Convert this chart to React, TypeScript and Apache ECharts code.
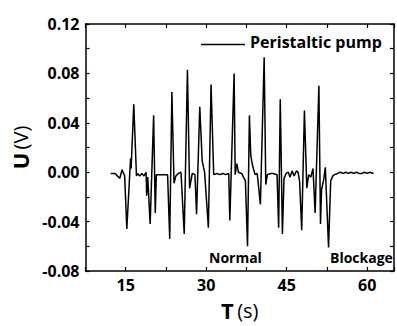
import React, { useEffect, useRef } from "react";
import * as echarts from "echarts";

const seriesName = "Peristaltic pump";

const timeS = [
  12.2, 13.0, 13.9, 14.3, 14.8, 15.2, 15.9, 16.0, 16.5, 17.0, 17.2, 17.6, 18.0, 18.4, 18.8, 18.9, 19.1, 19.55,
  20.2, 20.5, 20.7, 21.5, 22.8, 23.2, 23.6, 24.0, 24.35, 24.8, 25.3, 25.9, 26.5, 26.9, 27.4, 27.9, 28.2, 28.8,
  29.25, 29.7, 30.4, 30.9, 31.4, 32.0, 32.5, 33.1, 33.6, 34.2, 34.4, 35.2, 35.4, 35.7, 36.0, 36.6, 37.3, 37.7,
  38.05, 38.3, 38.6, 39.1, 39.5, 40.1, 40.8, 41.1, 41.4, 42.0, 42.5, 43.2, 43.5, 43.8, 44.2, 44.5, 44.9, 45.3,
  45.6, 46.0, 46.4, 46.8, 47.1, 47.4, 47.8, 48.3, 48.75, 49.1, 49.5, 49.9, 50.3, 51.0, 51.3, 51.5, 51.9, 52.2,
  52.8, 53.2, 53.6, 53.9, 54.5, 55.0, 55.5, 56.0, 56.5, 57.0, 57.5, 58.0, 58.5, 59.0, 59.5, 60.0, 60.5, 61.2,
];

const voltage = [
  -0.001, -0.001, -0.005, 0.002, -0.003, -0.046, 0.011, 0.003, 0.055, -0.003, -0.001, -0.003, -0.001, -0.003, 0.0, -0.019, -0.004, -0.042,
  0.046, -0.033, -0.002, -0.002, -0.002, -0.054, 0.065, -0.009, -0.003, -0.001, 0.0, -0.05, 0.083, -0.013, -0.001, -0.002, -0.034, 0.053,
  0.009, 0.0, -0.045, 0.071, -0.002, -0.001, -0.002, -0.001, -0.002, -0.001, -0.039, 0.08, -0.002, 0.007, 0.0, -0.001, -0.007, -0.06,
  0.046, 0.014, 0.006, -0.002, -0.001, -0.026, 0.093, -0.01, -0.002, -0.001, -0.001, -0.002, -0.045, 0.059, -0.05, -0.005, -0.001, 0.0,
  -0.004, 0.001, -0.003, 0.001, 0.0, -0.007, -0.047, 0.05, -0.013, -0.002, -0.004, 0.003, -0.033, 0.07, -0.042, -0.014, -0.006, 0.004,
  -0.061, -0.007, -0.003, -0.002, -0.001, 0.0, -0.001, 0.0, -0.001, 0.0, -0.001, 0.0, -0.001, -0.001, 0.0, -0.001, 0.0, -0.001,
];

const xLabels = [15, 30, 45, 60];
const yLabels = [-0.08, -0.04, 0, 0.04, 0.08, 0.12];
const annotations = ["Normal", "Blockage"];

const FONT = "'Open Sans', 'DejaVu Sans', sans-serif";

export default function App() {
  const ref = useRef<HTMLDivElement>(null);
  useEffect(() => {
    if (!ref.current) return;
    const chart = echarts.init(ref.current, null, { renderer: "svg" });
    const data = timeS.map((t, i) => [t, voltage[i]]);
    const axisLine = { show: true, onZero: false, lineStyle: { color: "#000", width: 1.5 } };
    const tick = { show: true, inside: true, length: 4, lineStyle: { color: "#000", width: 1.2 } };
    const labelStyle = { color: "#000", fontFamily: FONT, fontWeight: "bold" as const, fontSize: 16 };
    chart.setOption({
      animation: false,
      backgroundColor: "#fff",
      grid: { left: 85.5, right: 0.5, top: 24, bottom: 51, containLabel: false },
      xAxis: [
        {
          type: "value",
          position: "bottom",
          min: 7.5,
          max: 65,
          interval: 7.5,
          axisLine,
          axisTick: tick,
          splitLine: { show: false },
          axisLabel: {
            ...labelStyle,
            margin: 6,
            formatter: (v: number) => (xLabels.some((l) => Math.abs(l - v) < 1e-6) ? String(v) : ""),
          },
          name: "{b|T} {n|(s)}",
          nameLocation: "middle",
          nameGap: 28,
          nameTextStyle: {
            rich: {
              b: { fontFamily: FONT, fontWeight: "bold", fontSize: 22, color: "#000" },
              n: { fontFamily: FONT, fontWeight: "normal", fontSize: 20, color: "#000" },
            },
          },
        },
        {
          type: "value",
          position: "top",
          min: 7.5,
          max: 65,
          interval: 7.5,
          axisLine,
          axisTick: tick,
          splitLine: { show: false },
          axisLabel: { show: false },
        },
      ],
      yAxis: [
        {
          type: "value",
          position: "left",
          min: -0.08,
          max: 0.12,
          interval: 0.02,
          axisLine,
          axisTick: tick,
          splitLine: { show: false },
          axisLabel: {
            ...labelStyle,
            margin: 6,
            formatter: (v: number) => (yLabels.some((l) => Math.abs(l - v) < 1e-6) ? v.toFixed(2) : ""),
          },
          name: "{b|U} {n|(V)}",
          nameLocation: "middle",
          nameGap: 48,
          nameTextStyle: {
            rich: {
              b: { fontFamily: FONT, fontWeight: "bold", fontSize: 22, color: "#000" },
              n: { fontFamily: FONT, fontWeight: "normal", fontSize: 20, color: "#000" },
            },
          },
        },
        {
          type: "value",
          position: "right",
          min: -0.08,
          max: 0.12,
          interval: 0.02,
          axisLine,
          axisTick: tick,
          splitLine: { show: false },
          axisLabel: { show: false },
        },
      ],
      graphic: [
        {
          type: "line",
          shape: { x1: 201, y1: 44.5, x2: 245, y2: 44.5 },
          style: { stroke: "#000", lineWidth: 1.5 },
        },
        {
          type: "text",
          left: 250,
          top: 34,
          style: { text: seriesName, fill: "#000", font: `bold 16px ${FONT}` },
        },
        {
          type: "text",
          left: 209,
          top: 250,
          style: { text: annotations[0], fill: "#000", font: `bold 14px ${FONT}` },
        },
        {
          type: "text",
          left: 330,
          top: 250,
          style: { text: annotations[1], fill: "#000", font: `bold 14px ${FONT}` },
        },
      ],
      series: [
        {
          name: seriesName,
          type: "line",
          data,
          symbol: "none",
          lineStyle: { color: "#000", width: 1.5 },
          itemStyle: { color: "#000" },
        },
      ],
    });
    return () => chart.dispose();
  }, []);
  return <div ref={ref} style={{ width: 397, height: 326, position: "absolute", left: 0, top: 0 }} />;
}
